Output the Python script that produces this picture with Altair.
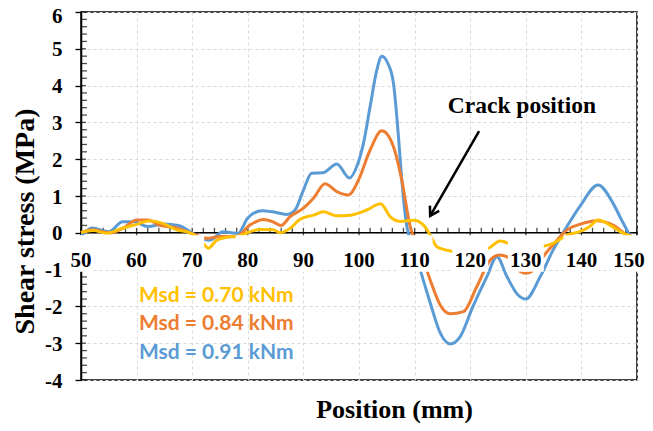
import altair as alt
import pandas as pd

# ---------------- data ----------------
series_names = ["Msd = 0.70 kNm", "Msd = 0.84 kNm", "Msd = 0.91 kNm"]
series_colors = ["#FFC000", "#ED7D31", "#5B9BD5"]

yellow_x = [50, 52.2, 54.6, 57.6, 60, 62.4, 64.8, 67.2, 69.6, 71.4, 72.9, 74.4, 76.2, 78,
            80.4, 82.2, 84.6, 85.8, 87.6, 89.4, 91.8, 93.6, 96, 98.4, 101.4, 103.9, 105.6,
            107.4, 109.8, 111.6, 112.8, 114, 115.2, 116.7, 119, 121.5, 123.3, 125.4, 127.5,
            130, 132.7, 134.9, 137.4, 139.7, 141.5, 143, 145.1, 147.5, 150]
yellow_y = [0.01, 0.06, -0.01, 0.13, 0.23, 0.33, 0.25, 0.08, 0.0, -0.17, -0.42, -0.2, -0.12, -0.1,
            0.03, 0.09, 0.08, 0.0, 0.12, 0.37, 0.48, 0.57, 0.46, 0.48, 0.62, 0.79, 0.44,
            0.31, 0.34, 0.21, -0.06, -0.38, -0.45, -0.5, -0.55, -0.5, -0.42, -0.22, -0.32,
            -0.42, -0.38, -0.29, -0.06, 0.03, 0.17, 0.35, 0.21, -0.01, -0.14]

orange_x = [50, 52.2, 55.2, 57.6, 60, 62, 64.2, 67.2, 69.6, 72.6, 75, 78, 80.4, 82.8, 84.5,
            86, 87.6, 90, 91.8, 93.9, 96, 98.1, 99.9, 102, 104.1, 106.2, 107.7, 109.2, 111,
            112.8, 114.6, 116.4, 118.8, 121.2, 123.6, 125.2, 126.6, 128.5, 130, 131.5, 133.1,
            134.9, 137.4, 139.7, 142.7, 145.7, 148.2, 150]
orange_y = [0.01, 0.08, 0.0, 0.13, 0.35, 0.35, 0.2, 0.13, 0.0, -0.15, -0.1, -0.1, 0.21, 0.36, 0.3,
            0.2, 0.44, 0.67, 0.94, 1.33, 1.12, 1.03, 1.43, 2.25, 2.77, 2.34, 1.43, 0.17, -0.47,
            -1.28, -1.96, -2.2, -2.14, -1.46, -0.74, -0.6, -0.65, -1.0, -1.1, -1.0, -0.65,
            -0.33, 0.08, 0.23, 0.33, 0.21, -0.06, -0.14]

blue_x = [50, 52, 55, 57.5, 59.5, 62, 65, 67.5, 70, 72, 73.2, 75.5, 77, 78.2, 80, 82.5, 84.5,
          87, 88.5, 90, 91.5, 93.5, 96, 98.3, 99.6, 100.8, 102, 103.2, 104.1, 105.2, 106.2,
          107.1, 107.7, 108.6, 109.8, 111, 112.8, 114.6, 116.4, 118.2, 120.5, 123, 124.8,
          126.6, 128.6, 130, 132.6, 134.9, 137.4, 139.7, 143, 145.7, 147.5, 149.3, 150]
blue_y = [-0.1, 0.13, 0.03, 0.3, 0.3, 0.17, 0.24, 0.2, 0.0, -0.17, -0.2, 0.03, 0.0, -0.02, 0.4,
          0.6, 0.57, 0.5, 0.62, 1.16, 1.62, 1.63, 1.87, 1.49, 1.8, 2.43, 3.43, 4.42, 4.8, 4.6,
          4.06, 2.61, 1.43, 0.17, -0.38, -1.0, -1.9, -2.72, -3.02, -2.82, -2.0, -1.19, -0.65,
          -1.19, -1.69, -1.8, -1.19, -0.47, 0.17, 0.71, 1.3, 0.8, 0.27, -0.14, -0.15]

x_tick_labels = [50, 60, 70, 80, 90, 100, 110, 120, 130, 140, 150]
y_tick_labels = [-4, -3, -2, -1, 0, 1, 2, 3, 4, 5, 6]
x_minor = [v for v in range(50, 151, 2) if v % 10 != 0]
y_minor = [round(-4 + 0.2 * i, 1) for i in range(51) if i % 5 != 0]

annotation_text = "Crack position"
arrow_tail = (121.6, 2.76)
arrow_tip = (112.8, 0.46)
annotation_pos = (129.3, 3.26)

# ---------------- build ----------------
SERIF = "Liberation Serif"
X = alt.Scale(domain=[50, 150], nice=False, zero=False)
Y = alt.Scale(domain=[-4, 6], nice=False, zero=False)

x_axis = alt.Axis(values=x_tick_labels, grid=True, gridDash=[3, 3], gridColor="#d9d9d9",
                  gridWidth=1, domain=False, ticks=False, labels=False,
                  title="Position (mm)", titleFont=SERIF, titleFontSize=26,
                  titleFontWeight="bold", titleColor="black", titleX=313, titleY=37,
                  titleBaseline="alphabetic", titleAlign="center")
y_axis = alt.Axis(values=y_tick_labels, grid=True, gridDash=[3, 3], gridColor="#d9d9d9",
                  gridWidth=1, domain=True, domainColor="black", domainWidth=1.5,
                  ticks=True, tickColor="black", tickSize=6, tickWidth=1.3,
                  labelFont=SERIF, labelFontSize=21, labelFontWeight="bold",
                  labelColor="black", labelPadding=13,
                  labelOffset={"condition": {"test": "datum.value == 6", "value": 4.5},
                               "value": 1},
                  labelExpr="'' + datum.value",
                  title="Shear stress (MPa)", titleFont=SERIF, titleFontSize=28,
                  titleFontWeight="bold", titleColor="black", titleAngle=270,
                  titleX=-56, titleY=209, titleAlign="center", titleBaseline="middle")


def XE(field):
    return alt.X(field, scale=X, axis=x_axis)


def YE(field):
    return alt.Y(field, scale=Y, axis=y_axis)


def line_layer(name, xs, ys, color):
    df = pd.DataFrame({"pos": xs, "tau": ys, "series": name})
    return alt.Chart(df).mark_line(
        strokeWidth=3, interpolate="monotone", color=color
    ).encode(x=XE("pos:Q"), y=YE("tau:Q"))


zero_df = pd.DataFrame({"pos": [50], "tau": [0]})
zero_line = alt.Chart(zero_df).mark_rule(color="black", strokeWidth=1.5).encode(
    y=YE("tau:Q")
)

xminor_df = pd.DataFrame({"pos": x_minor, "tau": 0})
xmajor_df = pd.DataFrame({"pos": x_tick_labels, "tau": 0})
x_minor_ticks = alt.Chart(xminor_df).mark_tick(
    orient="vertical", size=5, thickness=1.3, yOffset=-2.5, color="black"
).encode(x=XE("pos:Q"), y=YE("tau:Q"))
x_major_ticks = alt.Chart(xmajor_df).mark_tick(
    orient="vertical", size=10, thickness=1.3, color="black"
).encode(x=XE("pos:Q"), y=YE("tau:Q"))

yminor_df = pd.DataFrame({"tau": y_minor, "pos": 50})
ymajor_df = pd.DataFrame({"tau": y_tick_labels, "pos": 50})
y_minor_ticks = alt.Chart(yminor_df).mark_tick(
    orient="horizontal", size=6, thickness=1.3, xOffset=3, color="black"
).encode(x=XE("pos:Q"), y=YE("tau:Q"))
y_major_ticks = alt.Chart(ymajor_df).mark_tick(
    orient="horizontal", size=5, thickness=1.3, xOffset=2.5, color="black"
).encode(x=XE("pos:Q"), y=YE("tau:Q"))

lab_df = pd.DataFrame({"pos": x_tick_labels, "tau": 0,
                       "txt": [str(v) for v in x_tick_labels]})
last_label = x_tick_labels[-1]


def label_box(filt, half, shift=0):
    return alt.Chart(lab_df).transform_filter(filt).mark_rect(
        color="white", xOffset=-half + shift, x2Offset=half + shift,
        yOffset=2.5, y2Offset=39, clip=False
    ).encode(x=XE("pos:Q"), x2="pos:Q", y=YE("tau:Q"), y2="tau:Q")


def label_text(filt, shift=0):
    return alt.Chart(lab_df).transform_filter(filt).mark_text(
        font=SERIF, fontSize=21, fontWeight="bold", color="black",
        baseline="middle", align="center", dy=28, dx=shift, clip=False
    ).encode(x=XE("pos:Q"), y=YE("tau:Q"), text="txt:N")


box2 = label_box("datum.pos < 100", 12)
box3 = label_box(f"datum.pos >= 100 && datum.pos < {last_label}", 18)
box_last = label_box(f"datum.pos == {last_label}", 18, shift=-8)
labels_main = label_text(f"datum.pos < {last_label}")
labels_last = label_text(f"datum.pos == {last_label}", shift=-8)

legend_layers = []
legend_rows = [284, 312, 341]
for i, (name, col) in enumerate(zip(series_names, series_colors)):
    legend_layers.append(
        alt.Chart(zero_df).mark_text(
            font="Lato", fontSize=21, fontWeight="bold", color=col,
            align="left", baseline="middle"
        ).encode(x=alt.value(58), y=alt.value(legend_rows[i]), text=alt.value(name))
    )

arrow_df = pd.DataFrame({"pos": [arrow_tail[0]], "tau": [arrow_tail[1]],
                         "pos2": [arrow_tip[0]], "tau2": [arrow_tip[1]]})
arrow_line = alt.Chart(arrow_df).mark_rule(color="black", strokeWidth=2.5).encode(
    x=XE("pos:Q"), y=YE("tau:Q"), x2="pos2:Q", y2="tau2:Q")
arrow_head = alt.Chart(arrow_df).mark_point(
    shape="M-0.55,0.9L0,0L0.55,0.9", size=380, filled=False, stroke="black",
    strokeWidth=2.5, angle=210, opacity=1
).encode(x=XE("pos2:Q"), y=YE("tau2:Q"))

ann_df = pd.DataFrame({"pos": [annotation_pos[0]], "tau": [annotation_pos[1]],
                       "t": [annotation_text]})
annotation = alt.Chart(ann_df).mark_text(
    font=SERIF, fontSize=23.5, fontWeight="bold", color="black",
    align="center", baseline="alphabetic"
).encode(x=XE("pos:Q"), y=YE("tau:Q"), text="t:N")

chart = alt.layer(
    zero_line, x_minor_ticks, x_major_ticks, y_minor_ticks, y_major_ticks,
    line_layer(series_names[2], blue_x, blue_y, series_colors[2]),
    line_layer(series_names[1], orange_x, orange_y, series_colors[1]),
    line_layer(series_names[0], yellow_x, yellow_y, series_colors[0]),
    box2, box3, box_last, labels_main, labels_last,
    *legend_layers,
    arrow_line, arrow_head, annotation,
).properties(
    width=556, height=368,
    autosize=alt.AutoSizeParams(type="none"),
    padding={"left": 73, "top": 4, "right": 8, "bottom": 43},
    background="white",
).configure_view(stroke="black", strokeWidth=1.5)

chart.save("out.html", embed_options={"renderer": "svg", "actions": False})
